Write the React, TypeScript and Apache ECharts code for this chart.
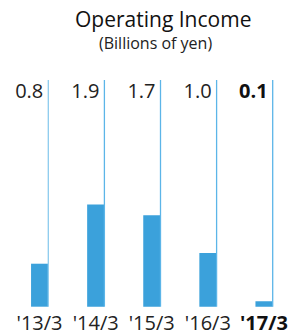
import React, { useEffect, useRef } from "react";
import * as echarts from "echarts";

const categories = ["'13/3", "'14/3", "'15/3", "'16/3", "'17/3"];
const values = [0.8, 1.9, 1.7, 1.0, 0.1];
const valueLabels = ["0.8", "1.9", "1.7", "1.0", "0.1"];
const Y_MAX = 4.2;

const FONT = "'Open Sans', 'Noto Sans', sans-serif";
const BLUE = "#3ba1db";
const LINE_BLUE = "#5cb5e8";
const TEXT = "#222222";
const BAR_W = 17;

export default function App() {
  const ref = useRef<HTMLDivElement>(null);
  useEffect(() => {
    if (!ref.current) return;
    const chart = echarts.init(ref.current, undefined, { renderer: "svg" });
    const last = categories.length - 1;
    chart.setOption({
      animation: false,
      backgroundColor: "#ffffff",
      graphic: [
        {
          type: "text",
          left: 75,
          top: 8,
          style: { text: "Operating Income", font: `21px ${FONT}`, fill: "#111111" },
        },
        {
          type: "text",
          left: 99,
          top: 35,
          style: { text: "(Billions of yen)", font: `16px ${FONT}`, fill: TEXT },
        },
      ],
      grid: { left: 11.5, width: 290, top: 81, bottom: 29.3, containLabel: false },
      xAxis: {
        type: "category",
        data: categories,
        axisLine: { show: false },
        axisTick: { show: false },
        axisLabel: {
          interval: 0,
          margin: 6,
          color: TEXT,
          fontSize: 20,
          fontFamily: FONT,
          formatter: (v: string, i: number) => (i === last ? `{b|${v}}` : v),
          rich: { b: { fontWeight: "bold", fontSize: 20, fontFamily: FONT, color: "#111" } },
        },
      },
      yAxis: { type: "value", min: 0, max: Y_MAX, show: false, splitLine: { show: false } },
      series: [
        {
          type: "bar",
          data: values,
          barWidth: BAR_W,
          itemStyle: { color: BLUE },
          z: 2,
        },
        {
          type: "custom",
          data: values.map((v, i) => [i, v]),
          z: 3,
          renderItem: (params: any, api: any) => {
            const i = api.value(0);
            const top = api.coord([i, Y_MAX]);
            const bottom = api.coord([i, 0]);
            const x = bottom[0] + BAR_W / 2 + 0.25;
            return {
              type: "group",
              children: [
                {
                  type: "line",
                  shape: { x1: x, y1: top[1] - 1, x2: x, y2: bottom[1] },
                  style: { stroke: i === 0 ? "#8ccbee" : LINE_BLUE, lineWidth: 1.3 },
                },
                {
                  type: "text",
                  x: x - 5,
                  y: top[1] + 9,
                  style: {
                    text: valueLabels[i],
                    font: `${i === last ? "bold " : ""}20px ${FONT}`,
                    fill: i === last ? "#111" : TEXT,
                    align: "right",
                    verticalAlign: "middle",
                  },
                },
              ],
            };
          },
        },
      ],
    });
    return () => chart.dispose();
  }, []);
  return (
    <div
      ref={ref}
      style={{ position: "fixed", left: 0, top: 0, width: 292, height: 336, background: "#fff" }}
    />
  );
}
